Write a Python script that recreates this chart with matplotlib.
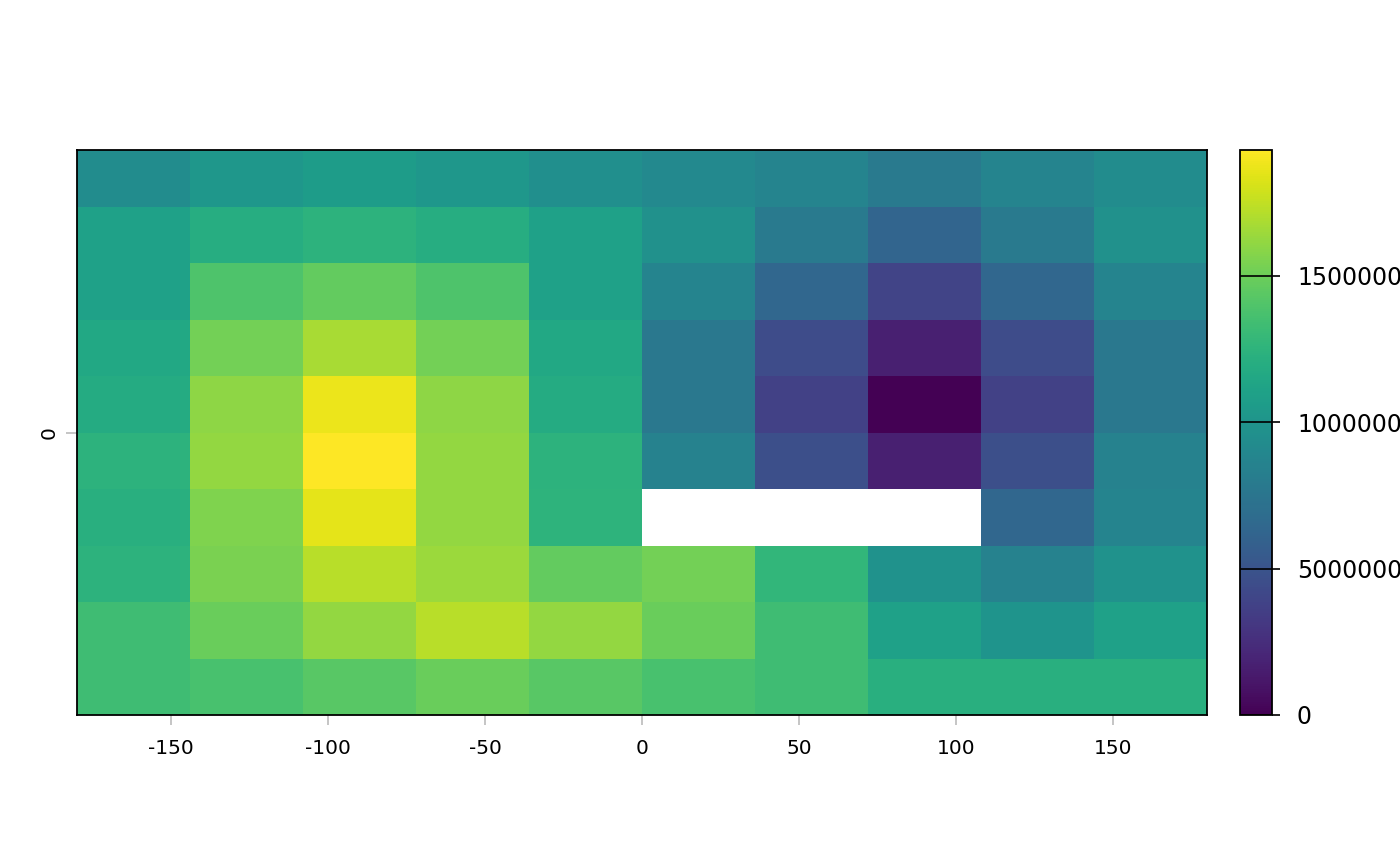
import numpy as np
import matplotlib
matplotlib.use("Agg")
import matplotlib.pyplot as plt

# raster values (millions), rows from top (north) to bottom (south); nan = no data
row1 = [9.3, 10.2, 10.6, 10.2, 9.5, 9.1, 8.7, 7.9, 8.7, 9.3]
row2 = [11.0, 12.0, 12.4, 12.0, 11.0, 9.65, 7.9, 6.2, 7.9, 9.65]
row3 = [11.0, 13.9, 14.7, 13.9, 11.0, 8.7, 6.4, 3.9, 6.4, 8.7]
row4 = [11.6, 15.2, 16.8, 15.2, 11.6, 7.7, 4.4, 1.7, 4.4, 7.7]
row5 = [11.8, 16.0, 18.7, 16.0, 11.8, 7.7, 3.7, 0.0, 3.7, 7.7]
row6 = [12.4, 16.2, 19.3, 16.2, 12.4, 8.5, 4.6, 1.7, 4.6, 8.5]
row7 = [12.2, 15.6, 18.5, 16.2, 12.5, np.nan, np.nan, np.nan, 6.4, 8.7]
row8 = [12.4, 15.4, 17.2, 16.4, 14.7, 15.2, 12.7, 9.8, 8.5, 9.8]
row9 = [13.3, 14.9, 16.2, 17.2, 16.2, 14.9, 13.3, 11.0, 10.0, 11.0]
row10 = [13.3, 13.7, 14.3, 14.9, 14.3, 13.7, 13.3, 12.2, 12.2, 12.2]

x_ticks = [-150, -100, -50, 0, 50, 100, 150]
y_ticks = [0]
cbar_ticks = [0, 5000000, 10000000, 15000000]
cbar_labels = ["0", "5000000", "10000000", "15000000"]

xmin, xmax, ymin, ymax = -180, 180, -90, 90

vals = np.array([row1, row2, row3, row4, row5, row6, row7, row8, row9, row10]) * 1e6
vals = np.ma.masked_invalid(vals)
nrow, ncol = vals.shape
xe = np.linspace(xmin, xmax, ncol + 1)
ye = np.linspace(ymax, ymin, nrow + 1)

plt.rcParams['font.family'] = ['DejaVu Sans']
fig = plt.figure(figsize=(14, 8.66), dpi=100)
W, H = 1400, 866
ax = fig.add_axes([77 / W, (H - 715) / H, 1130 / W, 565 / H])
mesh = ax.pcolormesh(xe, ye, vals, cmap='viridis', vmin=0, vmax=19.3e6, shading='flat')
ax.set_xlim(xmin, xmax)
ax.set_ylim(ymin, ymax)
ax.set_xticks(x_ticks)
ax.set_xticklabels([str(v) for v in x_ticks], fontsize=14.5)
ax.set_yticks(y_ticks)
ax.set_yticklabels([str(v) for v in y_ticks], fontsize=14.5, rotation=90, va='center')
ax.tick_params(axis='x', length=7, width=1.2, color='#bbbbbb', pad=10, labelcolor='black')
ax.tick_params(axis='y', length=8, width=1.2, color='#bbbbbb', pad=5, labelcolor='black')
for s in ax.spines.values():
    s.set_linewidth(1.3)
    s.set_color('black')

cax = fig.add_axes([1240 / W, (H - 715) / H, 32 / W, 565 / H])
cb = fig.colorbar(mesh, cax=cax)
cb.set_ticks(cbar_ticks)
cb.set_ticklabels(cbar_labels)
cb.outline.set_linewidth(1.3)
cb.outline.set_edgecolor('black')
for t in cbar_ticks:
    cax.axhline(t, color='black', lw=1.2)
cax.tick_params(axis='y', length=6, width=1.2, color='black', pad=12, labelsize=17)

fig.savefig("out.png", dpi=100)
